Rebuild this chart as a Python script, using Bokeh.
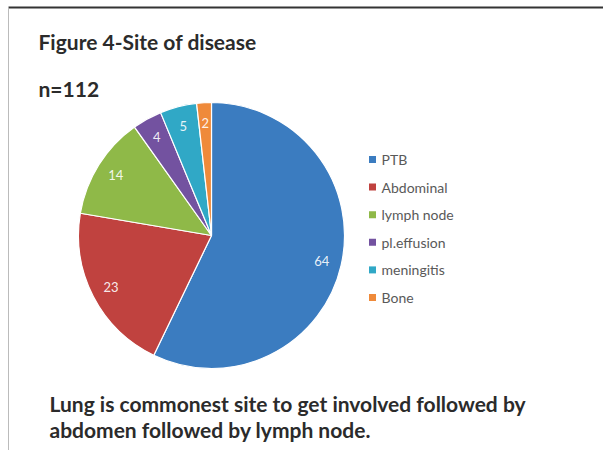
import numpy as np
from bokeh.plotting import figure
from bokeh.models import Range1d, ColumnDataSource
from bokeh.core.properties import value
from bokeh.embed import file_html
from bokeh.resources import INLINE

# ---- data ----
categories = ["PTB", "Abdominal", "lymph node", "pl.effusion", "meningitis", "Bone"]
counts = [64, 23, 14, 4, 5, 2]
colors = ["#3b7cc0", "#c0423f", "#8fb948", "#7352a0", "#30a8c6", "#ef8a3a"]
title_text = "Figure 4-Site of disease"
n_text = "n=112"
note_lines = ["Lung is commonest site to get involved followed by",
              "abdomen followed by lymph node."]

W, H = 603, 450
p = figure(width=W, height=H, output_backend="svg", toolbar_location=None,
           x_range=Range1d(0, W), y_range=Range1d(0, H), min_border=0)
p.axis.visible = False
p.grid.visible = False
p.outline_line_color = None
p.background_fill_color = "white"
p.border_fill_color = "white"

def Y(y):
    return H - y

# frame lines
p.segment(x0=[8], y0=[Y(7)], x1=[W], y1=[Y(7)], line_color="#333333", line_width=2)
p.segment(x0=[8], y0=[Y(7)], x1=[8], y1=[Y(H)], line_color="#bbbbbb", line_width=1)

# pie
vals = np.array(counts, dtype=float)
frac = vals / vals.sum()
cum = np.concatenate([[0], np.cumsum(frac)])
start = np.pi / 2 - cum[:-1] * 2 * np.pi
end = np.pi / 2 - cum[1:] * 2 * np.pi
cx, cy, r = 211, Y(235), 133
src = ColumnDataSource(dict(start=start, end=end, color=colors))
p.wedge(x=cx, y=cy, radius=r, start_angle="start", end_angle="end",
        direction="clock", fill_color="color", line_color="white",
        line_width=1.2, source=src)

mid = (start + end) / 2
lr = r * 0.85
lx = cx + lr * np.cos(mid)
ly = cy + lr * np.sin(mid)
p.text(x=lx, y=ly, text=[str(c) for c in counts], text_color="white",
       text_font=value("Lato"), text_font_size="13px",
       text_align="center", text_baseline="middle", text_alpha=0.9)

# legend
ly0, dy = 159, 27.6
leg_y = [Y(ly0 + i * dy) for i in range(len(categories))]
p.scatter(x=[372] * len(categories), y=leg_y, marker="square", size=7,
          fill_color=colors, line_color=None)
p.text(x=[381] * len(categories), y=leg_y, text=categories,
       text_color="#595959", text_font=value("Lato"), text_font_size="14px",
       text_align="left", text_baseline="middle")

# titles
p.text(x=[38], y=[Y(41)], text=[title_text], text_color="#2b2b2b",
       text_font=value("Lato"), text_font_style="bold", text_font_size="21px",
       text_baseline="middle")
p.text(x=[38], y=[Y(88)], text=[n_text], text_color="#2b2b2b",
       text_font=value("Lato"), text_font_style="bold", text_font_size="21px",
       text_baseline="middle")
p.text(x=[49, 49], y=[Y(403), Y(429)], text=note_lines, text_color="#2b2b2b",
       text_font=value("Lato"), text_font_style="bold", text_font_size="21px",
       text_baseline="middle")

open("out.html", "w").write(file_html(p, INLINE))
